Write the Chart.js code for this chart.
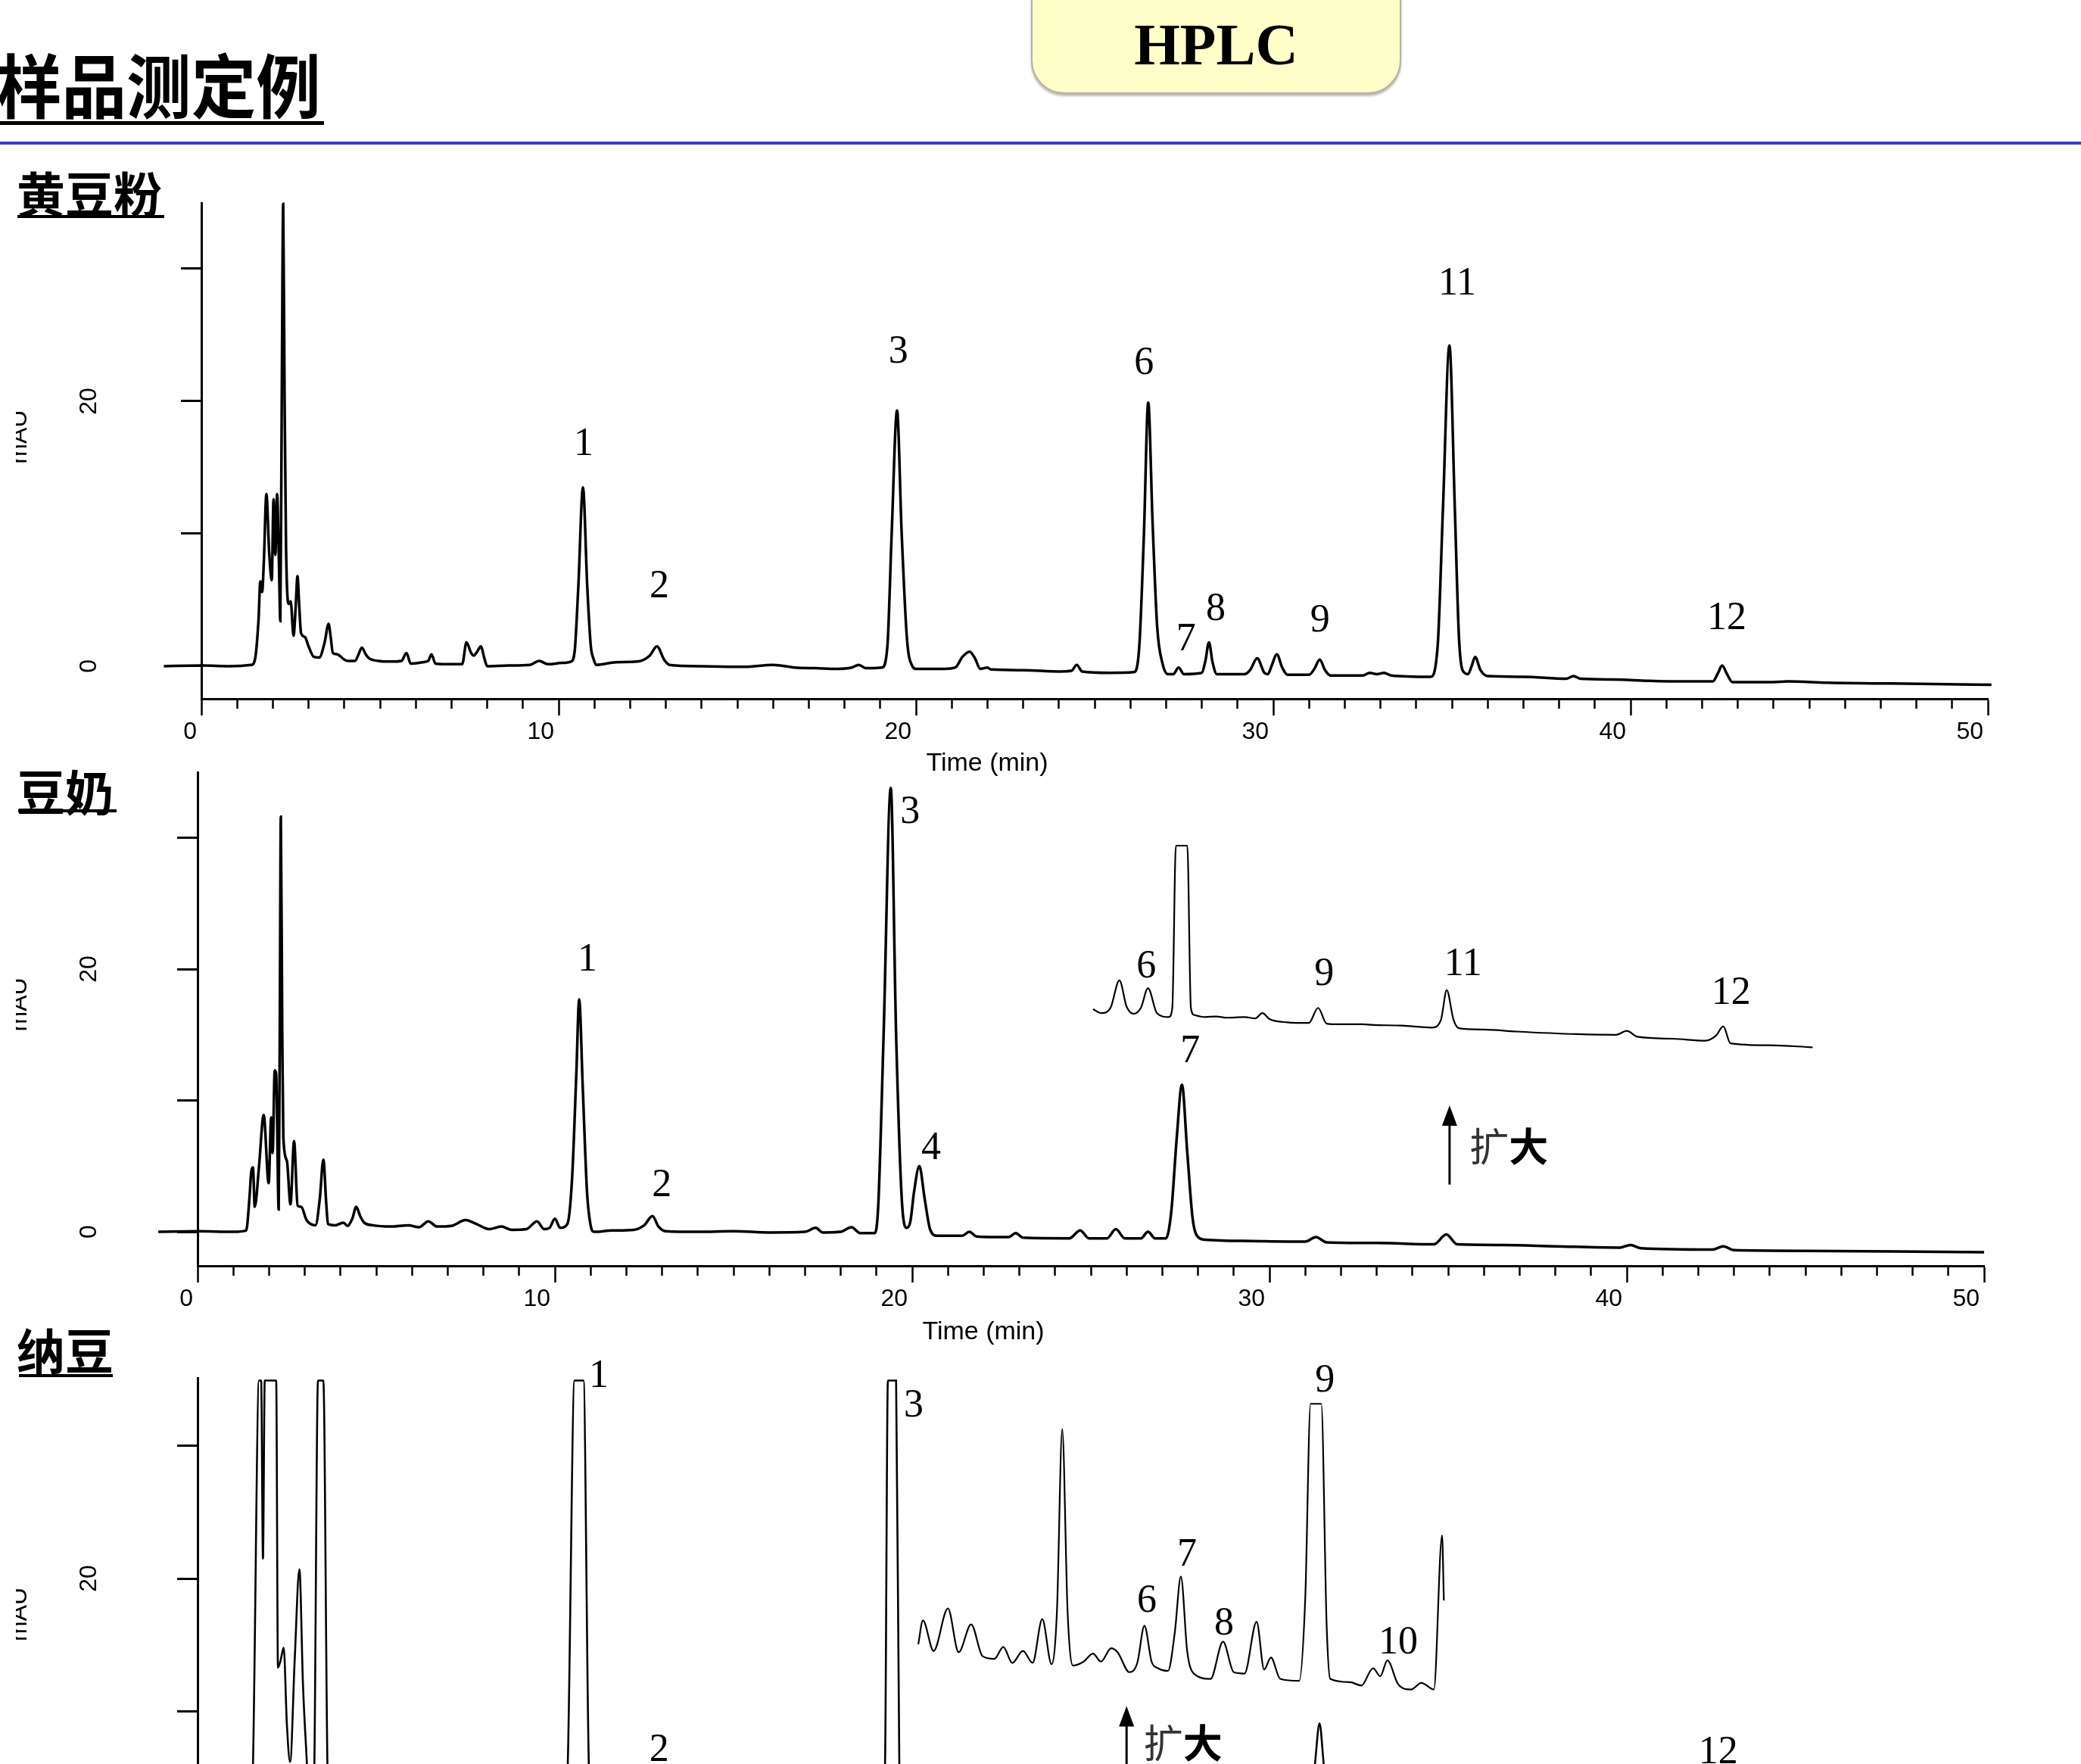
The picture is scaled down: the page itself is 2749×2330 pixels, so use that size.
<!DOCTYPE html>
<html>
<head>
<meta charset="utf-8">
<script src="https://cdn.jsdelivr.net/npm/chart.js@4.4.0/dist/chart.umd.min.js"></script>
<style>
html, body { margin: 0; padding: 0; background: #fff; overflow: hidden; }
#page { position: relative; width: 2749px; height: 2330px; overflow: hidden; background: #fff; }
canvas { position: absolute; left: 0; }
.cjk { position: absolute; font-family: "Noto Sans CJK SC", sans-serif; font-weight: 700; color: #000; line-height: 1; white-space: nowrap; }
.bar { position: absolute; background: #000; }
.axtitle { position: absolute; font-family: "Liberation Sans", Arial, sans-serif; font-size: 34px; line-height: 34px; color: #000; white-space: nowrap; transform: translateX(-50%); }
#hplc { position: absolute; left: 1362px; top: -44px; width: 485px; height: 164px; border-radius: 44px;
        background: #ffffc9; border: 2px solid #b4b49c; box-shadow: 0 3px 3px rgba(0,0,0,0.28); }
#hplcText { position: absolute; left: 1362px; width: 489px; top: 20px; text-align: center;
            font-family: "Liberation Serif", "Times New Roman", serif; font-weight: 700; font-size: 78px; line-height: 78px; }
</style>
</head>
<body>
<div id="page">
  <canvas id="flour" width="2749" height="780" style="top:240px"></canvas>
  <canvas id="milk" width="2749" height="800" style="top:990px"></canvas>
  <canvas id="natto" width="2749" height="800" style="top:1785px"></canvas>

  <div class="cjk" style="left:-4px;top:63px;font-size:92px;transform:scaleX(0.93);transform-origin:0 0;">样品测定例</div>
  <div class="bar" style="left:0;top:160px;width:428px;height:5px;"></div>
  <div id="hplc"></div>
  <div id="hplcText">HPLC</div>
  <div class="bar" style="left:0;top:187px;width:2749px;height:4px;background:#3b3bc2;"></div>

  <div class="cjk" style="left:22px;top:221px;font-size:64px;">黄豆粉</div>
  <div class="bar" style="left:23px;top:284px;width:194px;height:4px;"></div>
  <div class="cjk" style="left:22px;top:1011px;font-size:64px;">豆奶</div>
  <div class="bar" style="left:24px;top:1069px;width:130px;height:4px;"></div>
  <div class="cjk" style="left:22px;top:1749px;font-size:64px;">纳豆</div>
  <div class="bar" style="left:25px;top:1815px;width:124px;height:4px;"></div>

  <div class="axtitle" style="left:1304px;top:989px;">Time (min)</div>
  <div class="axtitle" style="left:1299px;top:1740px;">Time (min)</div>
</div>

<script>
// time (min), signal (mAU)
const soyFlour = [
  [-1.05, 0], [0, 0.05], [0.8, 0], [1.4, 0.1], [1.5, 0.5], [1.6, 3.5], [1.65, 6.4], [1.7, 5.6], [1.75, 8],
  [1.82, 13.0], [1.9, 8.5], [1.97, 6.5], [2.02, 12.6], [2.07, 8.4], [2.12, 13.0], [2.17, 8], [2.21, 3.4],
  [2.25, 20], [2.29, 34.9], [2.33, 20], [2.37, 9.0], [2.45, 4.7], [2.5, 4.9], [2.58, 2.3], [2.64, 4.5],
  [2.69, 6.8], [2.74, 4.5], [2.79, 2.5], [2.9, 2.2], [3.0, 1.5], [3.15, 0.7], [3.3, 0.65], [3.45, 1.8],
  [3.56, 3.2], [3.62, 2.2], [3.68, 1.0], [3.8, 0.9], [4.0, 0.5], [4.1, 0.4], [4.3, 0.4], [4.4, 0.9],
  [4.49, 1.4], [4.6, 0.9], [4.69, 0.6], [4.95, 0.4], [5.3, 0.35], [5.6, 0.4], [5.74, 1.0], [5.86, 0.2],
  [6.2, 0.3], [6.35, 0.4], [6.44, 0.9], [6.55, 0.2], [7.0, 0.15], [7.3, 0.15], [7.42, 1.8], [7.55, 1.0],
  [7.62, 0.8], [7.72, 1.1], [7.82, 1.5], [7.92, 0.6], [8.0, 0], [8.6, 0.05], [9.2, 0.1], [9.45, 0.4],
  [9.7, 0.15], [10.1, 0.25], [10.35, 0.35], [10.45, 1.2], [10.55, 6], [10.68, 13.5], [10.8, 6], [10.9, 1.5],
  [10.97, 0.6], [11.05, 0.1], [11.6, 0.3], [12.2, 0.35], [12.55, 0.8], [12.75, 1.5], [12.95, 0.5], [13.1, 0.1],
  [14.0, 0], [15.2, -0.05], [16.0, 0.1], [16.6, -0.1], [17.2, -0.15], [17.8, -0.2], [18.2, -0.1], [18.4, 0.1],
  [18.6, -0.15], [19.05, -0.1], [19.2, 1.5], [19.32, 10], [19.47, 19.3], [19.6, 10], [19.75, 2], [19.9, 0],
  [20.0, -0.2], [20.8, -0.2], [21.1, -0.1], [21.3, 0.7], [21.5, 1.1], [21.65, 0.6], [21.8, -0.2], [22.0, -0.1],
  [22.1, -0.25], [23.0, -0.3], [24.0, -0.4], [24.35, -0.35], [24.5, 0.1], [24.65, -0.4], [25.4, -0.5],
  [26.1, -0.45], [26.25, 1.5], [26.38, 10], [26.5, 19.9], [26.62, 11], [26.75, 3], [26.9, 0.2], [27.05, -0.6],
  [27.2, -0.6], [27.35, -0.1], [27.5, -0.6], [28.0, -0.5], [28.1, 0.4], [28.2, 1.8], [28.3, 0.3], [28.42, -0.6],
  [29.2, -0.6], [29.35, -0.3], [29.55, 0.6], [29.75, -0.5], [29.85, -0.6], [29.95, 0], [30.1, 0.9], [30.25, -0.1],
  [30.4, -0.65], [31.0, -0.65], [31.15, -0.2], [31.3, 0.5], [31.45, -0.3], [31.6, -0.7], [32.5, -0.7],
  [32.7, -0.5], [32.9, -0.6], [33.1, -0.5], [33.3, -0.7], [34.4, -0.8], [34.6, 1.5], [34.75, 12], [34.93, 24.2],
  [35.08, 12], [35.2, 2], [35.35, -0.5], [35.45, -0.6], [35.55, 0], [35.65, 0.7], [35.8, -0.3], [36.0, -0.75],
  [37.0, -0.8], [38.2, -0.95], [38.4, -0.75], [38.6, -0.95], [39.5, -1.0], [40.5, -1.1], [41.5, -1.15],
  [42.3, -1.15], [42.45, -0.5], [42.56, 0.05], [42.7, -0.6], [42.85, -1.2], [44.0, -1.2], [44.4, -1.15],
  [45.5, -1.25], [47.0, -1.3], [48.5, -1.35], [50.1, -1.4]
];

const soyMilk = [
  [-1.1, 0], [0, 0.05], [1.0, 0], [1.36, 0.1], [1.45, 2.5], [1.5, 4.5], [1.55, 4.9], [1.6, 1.9], [1.72, 5],
  [1.85, 8.9], [1.99, 3.7], [2.06, 8.7], [2.1, 6.0], [2.16, 12.3], [2.2, 12.0], [2.27, 1.7], [2.3, 15],
  [2.33, 31.6], [2.37, 15], [2.4, 7.2], [2.5, 5.4], [2.6, 2.1], [2.7, 6.9], [2.8, 2.0], [2.9, 1.9], [3.05, 0.9],
  [3.3, 0.5], [3.42, 2.5], [3.52, 5.5], [3.6, 2.2], [3.65, 0.6], [3.85, 0.5], [4.08, 0.7], [4.2, 0.45],
  [4.33, 1.0], [4.44, 1.9], [4.55, 1.2], [4.66, 0.7], [4.9, 0.5], [5.4, 0.4], [5.9, 0.5], [6.2, 0.35],
  [6.46, 0.8], [6.7, 0.4], [7.1, 0.45], [7.5, 0.9], [7.8, 0.6], [8.16, 0.2], [8.5, 0.4], [8.8, 0.15],
  [9.2, 0.2], [9.5, 0.8], [9.7, 0.2], [9.85, 0.3], [10.0, 1.0], [10.15, 0.3], [10.35, 0.6], [10.48, 4],
  [10.6, 12], [10.68, 17.7], [10.78, 11], [10.9, 3], [11.0, 0.5], [11.1, 0], [11.6, 0.1], [12.2, 0.15],
  [12.5, 0.5], [12.73, 1.2], [12.9, 0.4], [13.1, 0.05], [14.0, 0], [15.0, 0.05], [16.0, -0.05], [17.0, 0],
  [17.3, 0.3], [17.5, -0.05], [18.0, 0], [18.3, 0.35], [18.55, -0.1], [18.95, -0.1], [19.05, 2], [19.2, 15],
  [19.4, 33.8], [19.55, 15], [19.72, 2], [19.85, 0.3], [19.95, 0.8], [20.05, 3], [20.2, 5.0], [20.35, 2.5],
  [20.5, 0.2], [20.7, -0.3], [21.4, -0.3], [21.6, 0], [21.8, -0.35], [22.7, -0.4], [22.9, -0.1], [23.1, -0.45],
  [24.4, -0.5], [24.7, 0.1], [24.95, -0.5], [25.45, -0.5], [25.7, 0.2], [25.95, -0.5], [26.4, -0.5],
  [26.6, 0], [26.8, -0.5], [27.1, -0.5], [27.25, 1.5], [27.4, 7], [27.55, 11.2], [27.7, 6], [27.85, 1],
  [28.0, -0.4], [28.2, -0.6], [29.5, -0.7], [31.0, -0.75], [31.3, -0.4], [31.6, -0.8], [33.0, -0.85],
  [34.6, -0.95], [34.95, -0.2], [35.25, -0.95], [36.5, -1.0], [38.0, -1.1], [39.8, -1.2], [40.1, -1.0],
  [40.4, -1.25], [42.4, -1.35], [42.7, -1.1], [43.0, -1.4], [45.0, -1.45], [47.5, -1.5], [50.0, -1.55]
];

// enlarged trace drawn above the soy milk chromatogram (offset scale)
const soyMilkZoom = [
  [25.06, 0.4], [25.3, 0.1], [25.55, 0.5], [25.8, 2.6], [26.0, 0.6], [26.2, 0.05], [26.4, 0.5], [26.6, 2.0],
  [26.85, 0.1], [27.18, -0.2], [27.28, 0.5], [27.38, 12.85], [27.7, 12.85], [27.8, 0.5], [27.9, -0.05],
  [28.2, -0.2], [28.5, -0.15], [28.8, -0.25], [29.3, -0.2], [29.6, -0.3], [29.8, 0.1], [30.0, -0.35],
  [30.5, -0.6], [31.1, -0.65], [31.36, 0.5], [31.6, -0.7], [32.0, -0.75], [32.6, -0.75], [32.9, -0.8],
  [33.7, -0.85], [34.55, -1.0], [34.8, -0.4], [34.96, 1.85], [35.15, -0.4], [35.3, -1.05], [36.0, -1.15],
  [36.9, -1.3], [38.6, -1.5], [39.7, -1.55], [40.0, -1.25], [40.3, -1.7], [41.3, -1.85], [42.2, -2.0],
  [42.5, -1.6], [42.7, -0.9], [42.9, -2.2], [44.0, -2.35], [45.2, -2.5]
];

const natto = [
  [-1.1, 0], [0, 0.05], [1.0, 0.1], [1.45, 0.5], [1.55, 6], [1.72, 34.9], [1.78, 34.9], [1.83, 21.5],
  [1.88, 34.9], [2.2, 34.9], [2.25, 13.3], [2.32, 13.8], [2.41, 14.8], [2.5, 9], [2.59, 6.2], [2.72, 14],
  [2.85, 20.7], [2.95, 12], [3.03, 7.6], [3.12, 4], [3.25, 4], [3.37, 34.9], [3.52, 34.9], [3.65, 4],
  [3.8, 2.5], [4.2, 1.5], [5.0, 1.0], [6.5, 0.8], [8.0, 0.5], [10.2, 0.6], [10.36, 6], [10.55, 34.9],
  [10.8, 34.9], [10.95, 6], [11.1, 0.8], [12.2, 0.6], [12.7, 3.5], [13.2, 0.5], [15.0, 0.3], [19.1, 0.3],
  [19.24, 6], [19.32, 34.9], [19.55, 34.9], [19.64, 6], [19.8, 1.2], [20.2, 3.5], [20.6, 0.5], [24.2, 3.0],
  [24.5, 0.4], [27.5, 1.5], [28.0, 0.3], [31.0, 0.3], [31.27, 6], [31.4, 9.1], [31.52, 6], [31.8, 0.3],
  [34.95, 5], [35.3, 0.4], [42.6, 3.5], [43.0, 0.2], [50.0, 0]
];

const nattoZoom = [
  [20.17, 1.6], [20.3, 3.4], [20.6, 1.1], [21.0, 4.3], [21.3, 1.0], [21.65, 3.1], [21.97, 0.7], [22.3, 0.5],
  [22.55, 1.4], [22.8, 0.2], [23.1, 1.1], [23.37, 0.2], [23.64, 3.5], [23.9, 0.1], [24.05, 4], [24.2, 17.8],
  [24.35, 4], [24.5, 0], [24.8, 0.3], [25.06, 0.9], [25.28, 0.3], [25.57, 1.3], [25.75, 1.0], [26.08, -0.5],
  [26.3, 0.2], [26.5, 3.0], [26.7, 0.3], [26.88, -0.2], [27.16, -0.4], [27.35, 2.5], [27.52, 6.7], [27.7, 1.0],
  [27.88, -0.6], [28.35, -1.0], [28.7, 1.8], [29.0, -0.5], [29.3, -0.6], [29.64, 3.3], [29.85, -0.3],
  [30.04, 0.6], [30.3, -1.0], [30.83, -1.15], [31.0, 5], [31.15, 19.7], [31.45, 19.7], [31.6, 3], [31.7, -1.0],
  [32.25, -1.25], [32.57, -1.5], [32.9, -0.2], [33.1, -0.8], [33.3, 0.4], [33.6, -1.4], [33.96, -1.8],
  [34.25, -1.3], [34.6, -1.8], [34.83, 9.8], [34.88, 4.9]
];

// peak numbers: [time, signal, text]
const soyFlourPeaks = [
  [10.7, 16.74, '1'], [12.82, 6.0, '2'], [19.51, 23.7, '3'], [26.38, 22.86, '6'], [27.56, 2.0, '7'],
  [28.39, 4.29, '8'], [31.31, 3.43, '9'], [35.15, 28.86, '11'], [42.69, 3.6, '12']
];
const soyMilkPeaks = [[10.91, 20.7, '1'], [12.99, 3.5, '2'], [19.94, 31.9, '3'], [20.53, 6.3, '4'], [27.78, 13.7, '7']];
const soyMilkZoomPeaks = [[26.55, 3.6, '6'], [31.53, 3.05, '9'], [35.42, 3.8, '11'], [42.92, 1.6, '12']];
const nattoPeaks = [[11.23, 35.2, '1'], [12.92, 7.07, '2'], [20.04, 33.0, '3'], [42.56, 6.9, '12']];
const nattoZoomPeaks = [[26.57, 4.84, '6'], [27.69, 8.3, '7'], [28.73, 3.1, '8'], [31.55, 21.4, '9'], [33.6, 1.7, '10']];

const majorTimes = [0, 10, 20, 30, 40, 50];
const mauLabels = [0, 20];

Chart.defaults.font.family = '"Liberation Sans", Arial, sans-serif';
Chart.defaults.color = '#000';

const toXY = arr => arr.map(([t, v]) => ({x: t, y: v}));

function decorations(cfg) {
  return {
    id: 'decor',
    afterDatasetsDraw(chart) {
      const {ctx} = chart;
      const x = chart.scales.x, y = chart.scales.y, y2 = chart.scales.y2;
      ctx.save();
      ctx.fillStyle = '#000';
      ctx.strokeStyle = '#000';

      ctx.font = '32px "Liberation Sans", Arial, sans-serif';
      ctx.textAlign = 'center';
      ctx.textBaseline = 'middle';
      mauLabels.forEach(v => {
        ctx.save();
        ctx.translate(118, y.getPixelForValue(v));
        ctx.rotate(-Math.PI / 2);
        ctx.fillText(String(v), 0, 0);
        ctx.restore();
      });

      // unit label, cut at the left edge like the scan
      ctx.save();
      ctx.beginPath();
      ctx.rect(21, 0, 80, chart.height);
      ctx.clip();
      ctx.translate(35, y.getPixelForValue(17.3));
      ctx.rotate(-Math.PI / 2);
      ctx.textBaseline = 'alphabetic';
      ctx.fillText('mAU', 0, 0);
      ctx.restore();

      ctx.font = '52px "Liberation Serif", "Times New Roman", serif';
      ctx.textBaseline = 'middle';
      cfg.peaks.forEach(([t, v, s]) => ctx.fillText(s, x.getPixelForValue(t), y.getPixelForValue(v)));
      (cfg.zoomPeaks || []).forEach(([t, v, s]) => ctx.fillText(s, x.getPixelForValue(t), y2.getPixelForValue(v)));

      if (cfg.arrow) {
        const [t, v0, v1, tt, vt] = cfg.arrow;
        const ax = x.getPixelForValue(t), ay0 = y.getPixelForValue(v0), ay1 = y.getPixelForValue(v1);
        ctx.lineWidth = 3;
        ctx.beginPath();
        ctx.moveTo(ax, ay0);
        ctx.lineTo(ax, ay1 + 20);
        ctx.stroke();
        ctx.beginPath();
        ctx.moveTo(ax, ay1);
        ctx.lineTo(ax - 10, ay1 + 27);
        ctx.lineTo(ax + 10, ay1 + 27);
        ctx.closePath();
        ctx.fill();
        const tx = x.getPixelForValue(tt), ty = y.getPixelForValue(vt);
        ctx.textAlign = 'left';
        ctx.font = '400 52px "Noto Sans CJK SC", sans-serif';
        ctx.fillStyle = '#333';
        ctx.fillText('扩', tx, ty);
        const w = ctx.measureText('扩').width;
        ctx.font = '700 52px "Noto Sans CJK SC", sans-serif';
        ctx.fillStyle = '#000';
        ctx.fillText('大', tx + w, ty);
      }
      ctx.restore();
    }
  };
}

function panel(id, p) {
  const datasets = [{
    data: toXY(p.series), yAxisID: 'y', borderColor: '#000', borderWidth: p.lineWidth,
    pointRadius: 0, fill: false, cubicInterpolationMode: 'monotone',
    clip: {left: 70, top: 6, right: 20, bottom: 6}
  }];
  if (p.zoom) {
    datasets.push({
      data: toXY(p.zoom), yAxisID: 'y2', borderColor: '#000', borderWidth: 2.2,
      pointRadius: 0, fill: false, cubicInterpolationMode: 'monotone', clip: 10
    });
  }
  return new Chart(document.getElementById(id), {
    type: 'line',
    data: {datasets},
    options: {
      responsive: false,
      animation: false,
      devicePixelRatio: 1,
      events: [],
      layout: {padding: {left: 0, top: p.padTop, right: p.padRight, bottom: 0}},
      plugins: {legend: {display: false}, tooltip: {enabled: false}},
      scales: {
        x: {
          type: 'linear', min: 0, max: 50,
          afterFit: s => { s.height = p.xHeight; },
          border: {display: true, color: '#000', width: 3},
          grid: {
            drawOnChartArea: false, drawTicks: true, tickLength: 22, tickWidth: 2.5, tickColor: '#000',
            tickBorderDash: c => (c.tick && majorTimes.includes(c.tick.value)) ? [] : [11, 60]
          },
          ticks: {
            stepSize: 1, autoSkip: false, maxRotation: 0, minRotation: 0, align: 'end', labelOffset: -6,
            padding: 3, color: '#000', font: {size: 32},
            callback: v => majorTimes.includes(v) ? String(v) : ''
          }
        },
        y: {
          min: p.yMin, max: p.yMax,
          afterFit: s => { s.width = p.yWidth; },
          border: {display: true, color: '#000', width: 3},
          grid: {drawOnChartArea: false, drawTicks: true, tickLength: 27, tickWidth: 3, tickColor: '#000'},
          ticks: {display: false, stepSize: 10, includeBounds: false}
        },
        y2: {display: false, min: p.zMin, max: p.zMax}
      }
    },
    plugins: [decorations(p)]
  });
}

panel('flour', {
  series: soyFlour, lineWidth: 3.5, peaks: soyFlourPeaks,
  yMin: -2.46, yMax: 34.97, zMin: -10, zMax: 10,
  padTop: 28, padRight: 123, xHeight: 97, yWidth: 266
});

panel('milk', {
  series: soyMilk, lineWidth: 3.5, peaks: soyMilkPeaks,
  zoom: soyMilkZoom, zoomPeaks: soyMilkZoomPeaks,
  yMin: -2.59, yMax: 34.99, zMin: -19.14, zMax: 18.44,
  padTop: 30, padRight: 128, xHeight: 118, yWidth: 261,
  arrow: [35.04, 3.6, 9.63, 35.6, 6.5]
});

panel('natto', {
  series: natto, lineWidth: 2.6, peaks: nattoPeaks,
  zoom: nattoZoom, zoomPeaks: nattoZoomPeaks,
  yMin: -2.56, yMax: 35.1, zMin: -16.01, zMax: 21.65,
  padTop: 35, padRight: 128, xHeight: 104, yWidth: 261,
  arrow: [26.0, 5.0, 10.4, 26.48, 7.6]
});
</script>
</body>
</html>
